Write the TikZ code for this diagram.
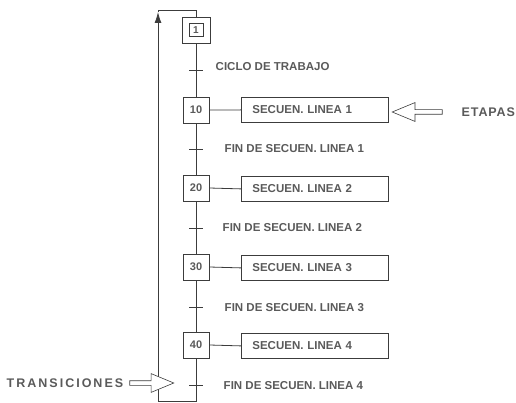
\documentclass[tikz,border=0pt]{standalone}
\usepackage{fontspec}
\setmainfont{Liberation Sans}
\usetikzlibrary{arrows.meta,positioning,shapes.arrows}
\definecolor{linegray}{RGB}{60,60,60}
\definecolor{textgray}{RGB}{90,90,90}

\begin{document}
\begin{tikzpicture}[x=1pt,y=-1pt,line width=0.8pt,
    stepbox/.style={draw=linegray,fill=white,minimum width=26pt,minimum height=26pt,
      inner sep=1pt,font=\fontsize{11}{12}\selectfont\bfseries,text=textgray},
    actbox/.style={draw=linegray,anchor=north west,text width=125pt,align=left,
      inner xsep=11pt,minimum height=25pt,font=\fontsize{11.5}{13}\selectfont\bfseries,
      text=textgray},
    trlabel/.style={anchor=west,font=\fontsize{11.5}{13}\selectfont\bfseries,text=textgray},
    hollow/.style={single arrow,draw=linegray,fill=white,line width=0.6pt,
      inner xsep=0pt,inner ysep=2pt,minimum width=11pt,single arrow tip angle=45}]
  \useasboundingbox (0,0) rectangle (516,403);
  % steps
  \node[stepbox,minimum width=28pt,minimum height=26pt] (s1) at (196,30) {};
  \node[stepbox,minimum width=14pt,minimum height=13pt,inner sep=0pt,
        font=\fontsize{10}{11}\selectfont\bfseries] (s1in) at (s1.center) {1};
  \node[stepbox] (s10) at (196,110) {10};
  \node[stepbox] (s20) at (196,188) {20};
  \node[stepbox] (s30) at (196,267) {30};
  \node[stepbox] (s40) at (196,345) {40};
  % actions
  \node[actbox] (a10) at (241,97) {SECUEN. LINEA 1};
  \node[actbox] (a20) at (241,176) {SECUEN. LINEA 2};
  \node[actbox] (a30) at (241,255) {SECUEN. LINEA 3};
  \node[actbox] (a40) at (241,333) {SECUEN. LINEA 4};
  \foreach \s in {10,20,30,40}
    \draw[linegray] (s\s.east) -- (a\s.west);
  % transitions
  \coordinate (t1) at (196,70);
  \coordinate (t2) at (196,149);
  \coordinate (t3) at (196,228);
  \coordinate (t4) at (196,307);
  \coordinate (t5) at (196,385);
  \draw[linegray] (s1.south) -- (s10.north);
  \draw[linegray] (s10.south) -- (s20.north);
  \draw[linegray] (s20.south) -- (s30.north);
  \draw[linegray] (s30.south) -- (s40.north);
  \foreach \t in {1,...,5}
    \draw[linegray] ([xshift=-7pt]t\t) -- ([xshift=7pt]t\t);
  \node[trlabel] (l1) at (212,67) {CICLO DE TRABAJO};
  \node[trlabel] (l2) at (221,149) {FIN DE SECUEN. LINEA 1};
  \node[trlabel] (l3) at (219,228) {FIN DE SECUEN. LINEA 2};
  \node[trlabel] (l4) at (221,308) {FIN DE SECUEN. LINEA 3};
  \node[trlabel] (l5) at (220,386) {FIN DE SECUEN. LINEA 4};
  % return loop
  \coordinate (bot) at (196,401);
  \coordinate (bl) at (158,401);
  \coordinate (arr) at (158,12);
  \coordinate (tl) at (158,10);
  \coordinate (top) at (196,10);
  \draw[linegray,-{Latex[length=11pt,width=7pt]}] (s40.south) -- (bot) -- (bl) -- (arr);
  \draw[linegray] (arr) -- (tl) -- (top) -- (s1.north);
  % pointers
  \node[hollow,shape border rotate=180,minimum height=50pt] (etarr) at (420,112) {};
  \node[trlabel,font=\fontsize{12.5}{13}\selectfont\bfseries\addfontfeatures{LetterSpace=7}]
    (etapas) at (458,112) {ETAPAS};
  \node[hollow,minimum height=44pt,minimum width=10pt] (trarr) at (149,383) {};
  \node[trlabel,font=\fontsize{12.5}{13}\selectfont\bfseries\addfontfeatures{LetterSpace=16}]
    (trans) at (3,383) {TRANSICIONES};
\end{tikzpicture}
\end{document}
